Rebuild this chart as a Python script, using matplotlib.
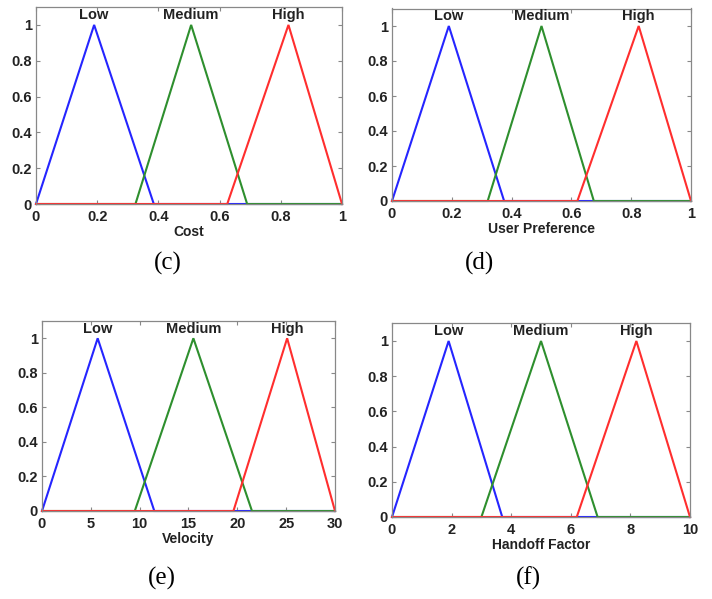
import matplotlib
matplotlib.use("Agg")
import matplotlib.pyplot as plt

# ---- data ----
mf_names = ["Low", "Medium", "High"]
mf_colors = ["#2525ff", "#2e8f2e", "#ff2e2e"]

cost_range = [0.0, 1.0]
cost_low = [0.0, 0.19, 0.385]
cost_medium = [0.325, 0.507, 0.69]
cost_high = [0.625, 0.825, 1.0]
cost_ticks = [0, 0.2, 0.4, 0.6, 0.8, 1]
cost_ticklabels = ["0", "0.2", "0.4", "0.6", "0.8", "1"]

pref_range = [0.0, 1.0]
pref_low = [0.0, 0.19, 0.375]
pref_medium = [0.32, 0.5, 0.675]
pref_high = [0.62, 0.825, 1.0]
pref_ticks = [0, 0.2, 0.4, 0.6, 0.8, 1]
pref_ticklabels = ["0", "0.2", "0.4", "0.6", "0.8", "1"]

vel_range = [0.0, 30.0]
vel_low = [0.0, 5.7, 11.5]
vel_medium = [9.5, 15.5, 21.5]
vel_high = [19.6, 25.1, 30.0]
vel_ticks = [0, 5, 10, 15, 20, 25, 30]
vel_ticklabels = ["0", "5", "10", "15", "20", "25", "30"]

hf_range = [0.0, 10.0]
hf_low = [0.0, 1.9, 3.7]
hf_medium = [3.0, 5.0, 6.9]
hf_high = [6.2, 8.2, 10.0]
hf_ticks = [0, 2, 4, 6, 8, 10]
hf_ticklabels = ["0", "2", "4", "6", "8", "10"]

y_ticks = [0, 0.2, 0.4, 0.6, 0.8, 1]
y_ticklabels = ["0", "0.2", "0.4", "0.6", "0.8", "1"]

panels = [
    dict(rng=cost_range, mfs=[cost_low, cost_medium, cost_high], ticks=cost_ticks,
         tl=cost_ticklabels, xlabel="Cost", caption="(c)",
         rect=[36/712, 1-204/599, 306/712, 197/599], cap_xy=(168, 263)),
    dict(rng=pref_range, mfs=[pref_low, pref_medium, pref_high], ticks=pref_ticks,
         tl=pref_ticklabels, xlabel="User Preference", caption="(d)",
         rect=[392/712, 1-201/599, 299/712, 192.5/599], cap_xy=(480, 263)),
    dict(rng=vel_range, mfs=[vel_low, vel_medium, vel_high], ticks=vel_ticks,
         tl=vel_ticklabels, xlabel="Velocity", caption="(e)",
         rect=[42/712, 1-511/599, 293/712, 190/599], cap_xy=(162, 578)),
    dict(rng=hf_range, mfs=[hf_low, hf_medium, hf_high], ticks=hf_ticks,
         tl=hf_ticklabels, xlabel="Handoff Factor", caption="(f)",
         rect=[392/712, 1-517/599, 298/712, 193.6/599], cap_xy=(528, 578)),
]

W, H = 712, 599
fig = plt.figure(figsize=(W/100, H/100), dpi=100)
fig.patch.set_facecolor("white")

sans = ["Liberation Sans", "DejaVu Sans"]
serif = ["Liberation Serif", "DejaVu Serif"]

for p in panels:
    ax = fig.add_axes(p["rect"])
    lo, hi = p["rng"]
    for name, (a, b, c), col in zip(mf_names, p["mfs"], mf_colors):
        xs = [lo, a, b, c, hi]
        ys = [0, 0, 1, 0, 0]
        ax.plot(xs, ys, color=col, lw=1.5, solid_joinstyle="miter", clip_on=False)
        ax.text(b, 1.055, name, ha="center", va="center", fontsize=10.5,
                fontweight="bold", family=sans, color="#222222")
    ax.set_xlim(lo, hi)
    ax.set_ylim(0, 1.1)
    ax.set_xticks(p["ticks"])
    ax.set_xticklabels(p["tl"])
    ax.set_yticks(y_ticks)
    ax.set_yticklabels(y_ticklabels)
    ax.tick_params(direction="in", length=3, width=0.8, color="#888888",
                   top=True, right=True, labelsize=10.5, labelcolor="#222222")
    ax.tick_params(axis="x", pad=4)
    ax.tick_params(axis="y", pad=3)
    for lab in ax.get_xticklabels() + ax.get_yticklabels():
        lab.set_fontweight("bold")
        lab.set_family(sans)
    for s in ax.spines.values():
        s.set_color("#888888")
        s.set_linewidth(0.9)
    ax.set_xlabel(p["xlabel"], fontsize=10, fontweight="bold", family=sans,
                  labelpad=1, color="#222222")
    cx, cy = p["cap_xy"]
    fig.text(cx/W, 1-cy/H, p["caption"], ha="center", va="center",
             fontsize=18, family=serif, color="black")

fig.savefig("out.png", dpi=100, facecolor="white")
